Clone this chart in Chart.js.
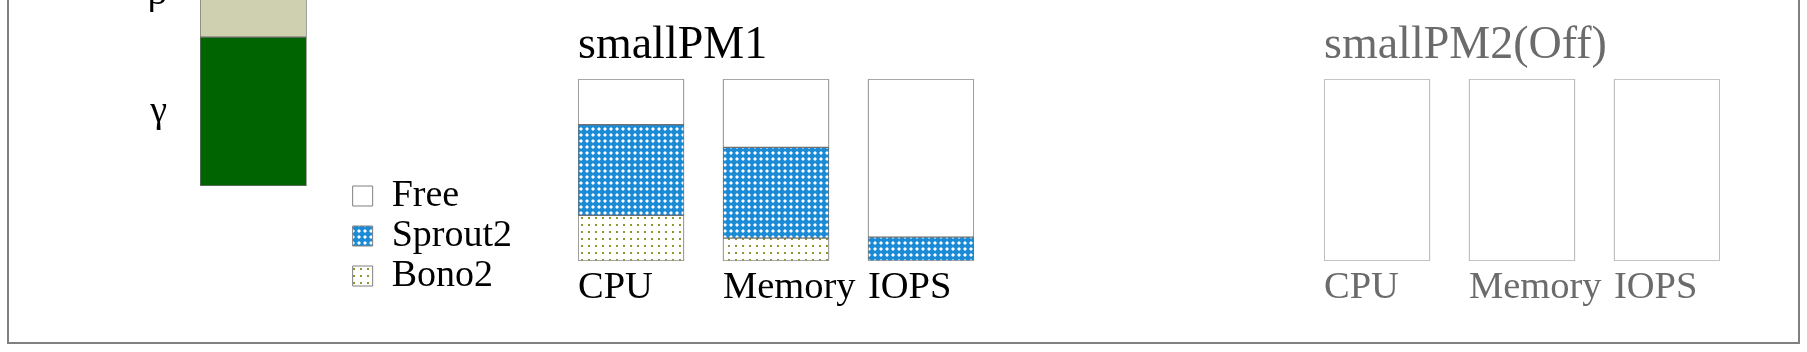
<!DOCTYPE html>
<html>
<head>
<meta charset="utf-8">
<script src="https://cdn.jsdelivr.net/npm/chart.js@4.4.0/dist/chart.umd.min.js"></script>
<style>
  html, body { margin: 0; padding: 0; background: #fff; }
  body { width: 1807px; height: 352px; position: relative; overflow: hidden; }
  #frame { position: absolute; left: 7px; top: -10px; width: 1793px; height: 354px; box-sizing: border-box; border: 2px solid #808080; }
  canvas { position: absolute; }
  #stack { left: -700px; top: -246px; }
  #pm1 { left: 578px; top: 18px; }
  #pm2 { left: 1324px; top: 18px; }
</style>
</head>
<body>
<div id="frame"></div>
<canvas id="stack" width="1222" height="543"></canvas>
<canvas id="pm1" width="456" height="297"></canvas>
<canvas id="pm2" width="456" height="297"></canvas>
<script>
// left stack, only its two lower parts are in the picture
const stackNames = ["γ", "β"];
const stackValues = [40, 23];

// the two small PMs
const resources = ["CPU", "Memory", "IOPS"];
const seriesNames = ["Bono2", "Sprout2", "Free"];
const pm1Bono2 = [25, 12.5, 0];
const pm1Sprout2 = [50, 50, 13];
const pm1Free = [25, 37.5, 87];
const pm2Bono2 = [0, 0, 0];
const pm2Sprout2 = [0, 0, 0];
const pm2Free = [100, 100, 100];

const FONT = "'Liberation Serif', 'Times New Roman', serif";
const BAR_W = 106;
const SLOT = 145;

// greek labels sit in the middle of their segment
const stackMiddles = stackValues.map((v, k) =>
    stackValues.slice(0, k).reduce((a, b) => a + b, 0) + v / 2);

function sproutFill(ctx) {
    const t = document.createElement("canvas");
    t.width = t.height = 6;
    const g = t.getContext("2d");
    g.fillStyle = "#1b8bd6";
    g.fillRect(0, 0, 6, 6);
    g.fillStyle = "rgba(255,255,255,0.5)";
    g.fillRect(1, 2, 4, 2);
    g.fillRect(2, 1, 2, 4);
    g.fillStyle = "#ffffff";
    g.fillRect(2, 2, 2, 2);
    return ctx.createPattern(t, "repeat");
}

function bonoFill(ctx) {
    const t = document.createElement("canvas");
    t.width = t.height = 7;
    const g = t.getContext("2d");
    g.fillStyle = "#ffffff";
    g.fillRect(0, 0, 7, 7);
    g.fillStyle = "#8a9a30";
    g.fillRect(3, 3, 2, 2);
    return ctx.createPattern(t, "repeat");
}

function seriesFills(ctx) {
    return [bonoFill(ctx), sproutFill(ctx), "#ffffff"];
}

// left stacked bar, carries the legend on its right side
// (canvas runs far off to the left so the legend gets its full width)
const stackCanvas = document.getElementById("stack");
const legendFills = seriesFills(stackCanvas.getContext("2d"));

new Chart(stackCanvas, {
    type: "bar",
    data: {
        labels: [""],
        datasets: stackNames.map((name, k) => ({
            label: name,
            data: [stackValues[k]],
            backgroundColor: ["#006400", "#cfd0b0"][k],
            borderColor: "#707070",
            borderWidth: 1,
            borderSkipped: false,
            barPercentage: 1,
            categoryPercentage: 1,
        })),
    },
    options: {
        responsive: false,
        animation: false,
        layout: { padding: { top: 60 } },
        plugins: {
            tooltip: { enabled: false },
            legend: {
                position: "right",
                align: "end",
                onClick: null,
                labels: {
                    boxWidth: 20,
                    boxHeight: 20,
                    padding: 2,
                    color: "#000",
                    font: { family: FONT, size: 38 },
                    generateLabels: () =>
                        seriesNames.map((name, k) => ({
                            text: name,
                            fillStyle: legendFills[k],
                            strokeStyle: "#808080",
                            lineWidth: 1,
                            hidden: false,
                            datasetIndex: k,
                        })).reverse(),
                },
            },
        },
        scales: {
            x: {
                stacked: true,
                grid: { display: false, drawTicks: false },
                border: { display: false },
                ticks: { display: false },
                afterFit: (s) => { s.height = 111; },
            },
            y: {
                stacked: true,
                min: 0,
                max: 100,
                grid: { display: false, drawTicks: false },
                border: { display: false },
                afterBuildTicks: (s) => { s.ticks = stackMiddles.map((v) => ({ value: v })); },
                ticks: {
                    padding: 33,
                    color: "#000",
                    font: { family: FONT, size: 38 },
                    callback: (v, i) => stackNames[i],
                },
                afterFit: (s) => { s.width = 900; },
            },
            gap: {
                type: "linear",
                position: "right",
                grid: { display: false, drawTicks: false },
                border: { display: false },
                ticks: { display: false },
                afterFit: (s) => { s.width = 44; },
            },
        },
    },
});

function pmChart(id, title, values, textColor, edgeColor) {
    const canvas = document.getElementById(id);
    const fills = seriesFills(canvas.getContext("2d"));
    return new Chart(canvas, {
        type: "bar",
        data: {
            datasets: seriesNames.map((name, k) => ({
                label: name,
                data: values[k].map((v, i) => ({ x: i, y: v })),
                backgroundColor: fills[k],
                borderColor: edgeColor,
                borderWidth: 1,
                borderSkipped: false,
                barThickness: BAR_W,
            })),
        },
        options: {
            responsive: false,
            animation: false,
            layout: { padding: { right: 60 } },
            plugins: {
                legend: { display: false },
                tooltip: { enabled: false },
                title: {
                    display: true,
                    text: title,
                    align: "start",
                    fullSize: false,
                    color: textColor,
                    font: { family: FONT, size: 46, weight: "normal", lineHeight: 1.2 },
                    padding: { top: 0, bottom: 6 },
                },
            },
            scales: {
                x: {
                    type: "linear",
                    stacked: true,
                    offset: false,
                    bounds: "data",
                    min: -BAR_W / 2 / SLOT,
                    max: resources.length - 1 + BAR_W / 2 / SLOT,
                    grid: { display: false, drawTicks: false },
                    border: { display: false },
                    afterBuildTicks: (s) => { s.ticks = resources.map((r, i) => ({ value: i })); },
                    ticks: {
                        align: "start",
                        labelOffset: -BAR_W / 2,
                        autoSkip: false,
                        maxRotation: 0,
                        padding: 4,
                        color: textColor,
                        font: { family: FONT, size: 38.5, lineHeight: 1.2 },
                        callback: (v) => resources[v],
                    },
                },
                y: { display: false, stacked: true, min: 0, max: 100 },
            },
        },
    });
}

pmChart("pm1", "smallPM1", [pm1Bono2, pm1Sprout2, pm1Free], "#000000", "#707070");
pmChart("pm2", "smallPM2(Off)", [pm2Bono2, pm2Sprout2, pm2Free], "#6b6b6b", "#a0a0a0");
</script>
</body>
</html>
